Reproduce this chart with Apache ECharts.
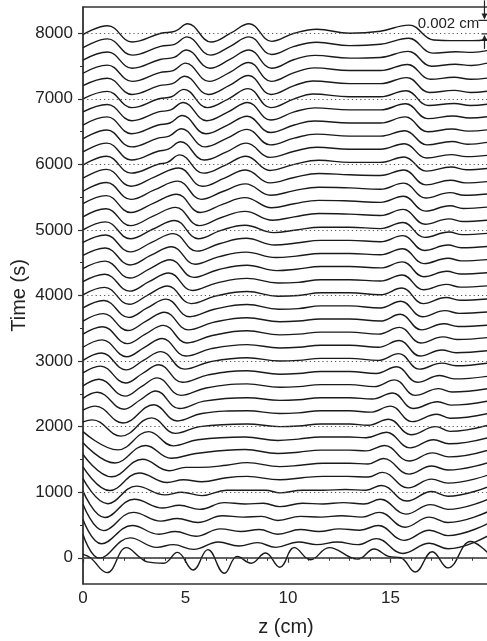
<!DOCTYPE html>
<html>
<head>
<meta charset="utf-8">
<script src="https://cdn.jsdelivr.net/npm/echarts@6/dist/echarts.min.js"></script>
<style>html,body{margin:0;padding:0;background:#fff;}#c{width:487px;height:641px;}</style>
</head>
<body>
<div id="c"></div>
<script>
// ---- data: surface profiles h(z); z in cm, displacement in 1e-4 cm (µm) ----
const K = 10.3;               // time-axis seconds per 1e-4 cm of displacement (0.002 cm bar)
const scaleBarCm = 0.002;
const h0 = [[0,5],[0.36,0],[1.17,-22],[2.12,15],[2.8,0],[3.13,-6],[3.94,-8],[4.6,8],[5.37,-18],[6.09,12],[6.9,-23],[7.52,2],[8.2,-8],[8.9,7],[9.6,-14],[10.3,15],[11.1,-3],[12.0,15],[13.4,-2],[14.2,13],[14.9,2],[15.5,0],[16.2,-21],[17.03,9],[17.8,-15],[18.9,24],[19.75,7]];
const h200 = [[0,15],[0.8,-20],[2.3,10],[3.6,-4],[4.4,0],[5.4,-7],[6.6,4],[7.6,-2],[8.5,3],[9.4,-4],[10.5,4],[11.4,0],[12.4,4],[13.4,0],[14.3,9],[15.6,-13],[16.9,2],[17.8,-6],[19.75,13]];
const h400 = [[0,18],[0.9,-18],[2.4,9],[3.7,-4],[4.5,0],[5.5,-7],[6.7,4],[7.7,0],[8.6,3],[9.5,-4],[10.6,3],[11.5,0],[12.5,4],[13.5,2],[14.4,9],[15.65,-13],[16.9,2],[17.8,-6],[19.75,12]];
const h600 = [[0,21],[1.0,-18],[2.45,9],[3.8,-4],[4.6,0],[5.6,-6],[6.8,4],[7.8,2],[8.7,3],[9.5,-3],[10.6,3],[11.6,2],[12.6,4],[13.6,2],[14.45,9],[15.7,-13],[16.9,2],[17.8,-6],[19.75,10]];
const h800 = [[0,21],[1.07,-18],[2.5,9],[3.9,-4],[4.7,0],[5.7,-6],[6.9,4],[7.9,2],[8.8,3],[9.6,-2],[10.7,3],[11.7,2],[12.7,4],[13.7,2],[14.5,9],[15.75,-13],[16.95,1],[17.8,-6],[19.75,9]];
const h1000 = [[0,20],[1.2,-17],[2.6,9],[4.0,-4],[4.8,0],[5.8,-5],[7.0,3],[8.0,3],[8.9,3],[9.6,-1],[10.7,3],[11.7,3],[12.8,4],[13.8,3],[14.55,10],[15.8,-13],[17.0,1],[17.8,-6],[19.75,8]];
const h1200 = [[0,18],[1.3,-17],[2.75,9],[4.1,-5],[4.9,-1],[5.8,-4],[7.0,2],[8.0,4],[9.6,-1],[10.7,2],[11.7,4],[12.9,4],[13.9,3],[14.6,10],[15.85,-13],[17.0,0],[17.8,-6],[19.75,6]];
const h1400 = [[0,17],[1.4,-16],[2.9,10],[4.2,-7],[5.0,-2],[5.7,-2],[7.0,1],[8.0,5],[9.6,-1],[10.6,1],[11.7,4],[13.0,4],[13.9,3],[14.65,11],[15.9,-12],[17.0,0],[17.8,-6],[19.75,5]];
const h1600 = [[0,15],[1.55,-15],[3.05,11],[4.3,-8],[5.5,-1],[7.9,5],[9.5,-1],[10.5,1],[11.6,4],[13.0,4],[13.8,3],[14.7,11],[15.9,-12],[17.05,0],[17.85,-6],[19.75,4]];
const h1800 = [[0,12],[1.7,-15],[3.2,12],[4.4,-9],[5.6,0],[7.9,4],[9.5,-1],[10.5,1],[11.6,4],[13.0,4],[13.8,3],[14.8,11],[15.95,-12],[17.1,0],[17.85,-6],[19.75,3]];
const h2000 = [[0,7],[0.45,10],[1.85,-14],[3.35,13],[4.5,-10],[5.7,0],[8.0,4],[9.6,0],[10.5,1],[11.6,4],[13.0,4],[13.9,2],[14.9,11],[16.0,-12],[17.2,0],[17.9,-7],[19.75,2]];
const h2200 = [[0,5],[0.6,11],[1.95,-14],[3.45,13],[4.6,-11],[5.8,0],[8.0,4],[9.6,0],[10.5,1],[11.6,4],[13.0,4],[14.0,2],[15.0,11],[16.05,-12],[17.25,-1],[17.9,-7],[19.75,0]];
const h2400 = [[0,3],[0.7,12],[2.0,-13],[2.8,1],[3.55,14],[4.7,-12],[5.9,-1],[8.0,4],[9.6,0],[10.5,1],[11.6,4],[13.0,4],[14.1,2],[15.1,11],[16.1,-12],[17.3,-2],[17.95,-7],[19.75,-1]];
const h2600 = [[0,2],[0.78,12],[2.05,-13],[2.85,1],[3.62,14],[4.77,-12],[6.0,-1],[8.0,5],[9.6,0],[10.5,1],[11.6,4],[13.0,4],[14.2,1],[15.2,11],[16.2,-12],[17.35,-2],[18.0,-7],[19.75,-2]];
const h2800 = [[0,2],[0.85,12],[2.08,-13],[2.9,1],[3.7,14],[4.85,-12],[6.1,-1],[8.0,5],[9.6,0],[10.5,1],[11.6,4],[13.0,4],[14.3,1],[15.3,11],[16.3,-12],[17.4,-2],[18.1,-7],[19.75,-3]];
const h3000 = [[0,1],[0.9,12],[2.1,-13],[2.95,1],[3.8,14],[4.95,-12],[6.2,-1],[8.0,5],[9.6,0],[10.5,1],[11.6,4],[13.0,4],[14.4,1],[15.4,11],[16.4,-12],[17.5,-3],[18.2,-7],[19.75,-3]];
const h3200 = [[0,1],[0.93,12],[2.13,-13],[3.0,1],[3.86,14],[5.01,-12],[6.25,-1],[8.0,5],[9.6,0],[10.5,1],[11.6,4],[13.0,4],[14.4,1],[15.42,11],[16.44,-12],[17.5,-3],[18.2,-7],[19.75,-4]];
const h3400 = [[0,1],[0.96,12],[2.16,-13],[3.04,1],[3.92,14],[5.07,-12],[6.3,-1],[8.0,6],[9.6,0],[10.5,1],[11.6,4],[13.0,4],[14.4,1],[15.44,11],[16.47,-12],[17.55,-3],[18.25,-7],[19.75,-4]];
const h3600 = [[0,1],[0.99,12],[2.19,-13],[3.08,1],[3.98,14],[5.13,-12],[6.35,-1],[8.0,6],[9.6,0],[10.5,1],[11.6,4],[13.0,4],[14.5,1],[15.47,11],[16.5,-12],[17.6,-3],[18.3,-7],[19.75,-5]];
const h3800 = [[0,1],[1.02,12],[2.22,-13],[3.13,1],[4.05,14],[5.2,-12],[6.4,-1],[8.0,6],[9.55,-1],[10.5,0],[11.6,4],[13.0,4],[14.5,1],[15.5,11],[16.55,-12],[17.65,-3],[18.35,-7],[19.75,-5]];
const h4000 = [[0,1],[1.05,12],[2.25,-13],[3.18,1],[4.12,14],[5.27,-12],[6.45,-1],[8.0,6],[9.5,-1],[10.5,0],[11.6,4],[13.0,4],[14.5,1],[15.55,11],[16.6,-12],[17.7,-3],[18.4,-7],[19.75,-5]];
const h4200 = [[0,1],[1.07,12],[2.27,-13],[3.22,1],[4.18,14],[5.33,-12],[6.5,-1],[8.0,6],[9.5,-1],[10.5,0],[11.6,4],[13.0,4],[14.5,2],[15.56,11],[16.61,-11],[17.72,-3],[18.4,-7],[19.75,-5]];
const h4400 = [[0,1],[1.08,12],[2.28,-13],[3.27,1],[4.25,14],[5.4,-12],[6.55,-1],[8.0,6],[9.45,-2],[10.4,0],[11.6,4],[13.0,4],[14.5,2],[15.57,11],[16.62,-11],[17.75,-3],[18.4,-7],[19.75,-5]];
const h4600 = [[0,1],[1.09,12],[2.29,-13],[3.3,1],[4.32,14],[5.47,-12],[6.6,-1],[7.95,6],[9.4,-2],[10.4,0],[11.6,4],[13.0,4],[14.5,2],[15.58,11],[16.63,-11],[17.8,-3],[18.45,-7],[19.75,-5]];
const h4800 = [[0,1],[1.1,12],[2.3,-13],[3.35,1],[4.4,14],[5.55,-12],[6.65,-1],[7.95,7],[9.35,-3],[10.4,0],[11.6,4],[13.0,4],[14.5,2],[15.59,11],[16.65,-11],[17.8,-3],[18.45,-7],[19.75,-5]];
const h5000 = [[0,0],[1.1,12],[2.3,-13],[3.4,1],[4.47,14],[5.62,-13],[6.7,-1],[7.9,7],[9.3,-4],[10.4,0],[11.6,4],[13.0,4],[14.5,2],[15.6,11],[16.66,-11],[17.85,-3],[18.5,-7],[19.75,-5]];
const h5200 = [[0,0],[1.12,12],[2.31,-13],[3.42,1],[4.52,14],[5.67,-13],[6.75,-1],[7.9,8],[9.25,-5],[10.3,0],[11.5,5],[13.0,4],[14.5,2],[15.61,11],[16.68,-11],[17.85,-3],[18.5,-7],[19.75,-5]];
const h5400 = [[0,0],[1.13,12],[2.32,-13],[3.45,1],[4.57,14],[5.72,-13],[6.8,-1],[7.9,9],[9.2,-6],[10.3,0],[11.5,5],[13.0,4],[14.5,2],[15.62,11],[16.7,-11],[17.9,-3],[18.55,-7],[19.75,-5]];
const h5600 = [[0,-1],[1.14,12],[2.33,-13],[3.48,1],[4.62,14],[5.77,-13],[6.85,-1],[7.92,10],[9.15,-7],[10.3,0],[11.5,5],[13.0,4],[14.5,2],[15.63,11],[16.72,-11],[17.9,-3],[18.6,-7],[19.75,-5]];
const h5800 = [[0,-1],[1.15,12],[2.34,-13],[3.5,1],[4.67,14],[5.82,-13],[6.9,-1],[7.93,11],[9.13,-8],[10.3,0],[11.5,6],[13.0,4],[14.5,3],[15.64,11],[16.73,-11],[17.93,-4],[18.65,-8],[19.75,-6]];
const h6000 = [[0,-1],[1.15,12],[2.35,-13],[3.65,0],[4.12,3],[4.72,14],[5.87,-13],[6.95,-1],[7.95,12],[9.12,-9],[10.3,0],[11.5,6],[13.0,3],[14.5,3],[15.65,11],[16.75,-10],[17.95,-4],[18.7,-8],[19.75,-6]];
const h6200 = [[0,-1],[1.16,12],[2.36,-13],[3.66,0],[4.16,3],[4.76,14],[5.91,-13],[7.0,-1],[7.97,12],[9.12,-9],[10.3,0],[11.4,6],[13.0,3],[14.5,3],[15.67,11],[16.76,-10],[17.95,-5],[18.7,-8],[19.75,-6]];
const h6400 = [[0,-1],[1.16,12],[2.36,-13],[3.66,0],[4.2,3],[4.8,14],[5.95,-13],[7.03,0],[8.0,13],[9.13,-10],[10.3,0],[11.4,6],[13.0,3],[14.5,3],[15.69,11],[16.78,-10],[18.0,-5],[18.75,-9],[19.75,-6]];
const h6600 = [[0,0],[1.17,12],[2.37,-13],[3.67,0],[4.24,3],[4.84,14],[5.99,-13],[7.05,0],[8.01,13],[9.14,-11],[10.3,0],[11.3,6],[13.0,3],[14.5,3],[15.71,12],[16.8,-10],[18.0,-6],[18.8,-9],[19.75,-7]];
const h6800 = [[0,0],[1.18,11],[2.38,-13],[3.68,0],[4.28,3],[4.88,14],[6.03,-13],[7.08,0],[8.03,14],[9.15,-12],[10.3,0],[11.3,6],[13.0,3],[14.5,3],[15.73,12],[16.82,-10],[18.05,-6],[18.85,-9],[19.75,-7]];
const h7000 = [[0,0],[1.18,11],[2.38,-13],[3.7,0],[4.32,3],[4.92,14],[6.07,-13],[7.1,0],[8.05,15],[9.15,-13],[10.3,0],[11.2,7],[13.0,3],[14.5,3],[15.75,12],[16.85,-10],[18.1,-7],[18.9,-10],[19.75,-8]];
const h7200 = [[0,0],[1.19,11],[2.39,-13],[3.72,0],[4.36,3],[4.96,14],[6.11,-13],[7.12,0],[8.07,15],[9.17,-13],[10.3,0],[11.2,7],[13.0,3],[14.5,3],[15.78,12],[16.9,-10],[18.1,-7],[18.9,-10],[19.75,-8]];
const h7400 = [[0,-1],[1.19,11],[2.39,-13],[3.74,0],[4.4,3],[5.0,14],[6.15,-13],[7.14,0],[8.08,15],[9.18,-13],[10.3,0],[11.3,7],[13.0,3],[14.5,3],[15.82,12],[16.95,-10],[18.1,-7],[18.9,-10],[19.75,-8]];
const h7600 = [[0,-1],[1.2,11],[2.4,-13],[3.76,0],[4.44,3],[5.04,14],[6.19,-13],[7.16,0],[8.09,14],[9.2,-13],[10.3,0],[11.3,6],[13.0,2],[14.5,3],[15.85,12],[17.0,-10],[18.15,-7],[18.95,-9],[19.75,-5]];
const h7800 = [[0,-2],[1.2,11],[2.4,-13],[3.78,0],[4.47,3],[5.07,14],[6.22,-13],[7.18,0],[8.1,14],[9.2,-12],[10.3,0],[11.4,6],[13.0,1],[14.5,3],[15.88,12],[17.05,-10],[18.2,-8],[19.0,-9],[19.75,-6]];
const h8000 = [[0,-2],[1.2,11],[2.4,-13],[3.8,0],[4.5,3],[5.1,14],[6.25,-13],[7.2,0],[8.1,14],[9.2,-12],[10.3,0],[11.4,6],[13.0,0],[14.5,3],[15.9,12],[17.1,-10],[18.2,-11],[19.0,-11],[19.75,-9]];

const times = [0,200,400,600,800,1000,1200,1400,1600,1800,2000,2200,2400,2600,2800,3000,3200,3400,3600,3800,4000,4200,4400,4600,4800,5000,5200,5400,5600,5800,6000,6200,6400,6600,6800,7000,7200,7400,7600,7800,8000];
const profiles = [h0,h200,h400,h600,h800,h1000,h1200,h1400,h1600,h1800,h2000,h2200,h2400,h2600,h2800,h3000,h3200,h3400,h3600,h3800,h4000,h4200,h4400,h4600,h4800,h5000,h5200,h5400,h5600,h5800,h6000,h6200,h6400,h6600,h6800,h7000,h7200,h7400,h7600,h7800,h8000];
const yMajor = [0,1000,2000,3000,4000,5000,6000,7000,8000];
const yMinor = [500,1500,2500,3500,4500,5500,6500,7500];
const xMajor = [0,5,10,15];
const xMinor = [1,2,3,4,6,7,8,9,11,12,13,14,16,17,18,19];

// ---- chart ----
const FONT = 'Liberation Sans, Arial, Helvetica, sans-serif';
const chart = echarts.init(document.getElementById('c'), null, {renderer:'canvas'});
const series = profiles.map((p, i) => ({
  type: 'line',
  data: p.map(([z, d]) => [z, times[i] + d * K]),
  showSymbol: false,
  smooth: 0.42,
  silent: true,
  z: 3,
  lineStyle: {color: '#1a1a1a', width: 1.4}
}));
series.push({
  type: 'line', data: [], silent: true, z: 1,
  markLine: {
    silent: true, symbol: ['none','none'], animation: false,
    label: {show: false},
    lineStyle: {type: [1.2, 3], color: '#555', width: 1},
    data: yMajor.map(v => ({yAxis: v}))
  }
});
const axisCol = '#333';
const plain = v => String(v);
chart.setOption({
  animation: false,
  backgroundColor: '#fff',
  grid: {left: 83, top: 7, width: 406, height: 577, show: true, borderColor: axisCol, borderWidth: 1.3,
         backgroundColor: 'transparent', containLabel: false, outerBoundsMode: 'none'},
  xAxis: [
    {type:'value', min:0, max:19.8, position:'bottom',
     axisLine:{show:true, lineStyle:{color:axisCol, width:1.5}},
     axisTick:{show:true, customValues:xMajor, length:5, lineStyle:{color:axisCol, width:1.2}},
     axisLabel:{customValues:xMajor, formatter:plain, fontSize:17, color:'#222', margin:6, fontFamily:FONT},
     splitLine:{show:false},
     name:'z (cm)', nameLocation:'middle', nameGap:33, nameMoveOverlap:false,
     nameTextStyle:{fontSize:20, color:'#222', fontFamily:FONT}},
    {type:'value', min:0, max:19.8, position:'bottom',
     axisLine:{show:false},
     axisTick:{show:true, customValues:xMinor, length:3, lineStyle:{color:axisCol, width:1}},
     axisLabel:{show:false, customValues:xMinor}, splitLine:{show:false}}
  ],
  yAxis: [
    {type:'value', min:-400, max:8400, position:'left',
     axisLine:{show:true, lineStyle:{color:axisCol, width:1.5}},
     axisTick:{show:true, customValues:yMajor, length:5, lineStyle:{color:axisCol, width:1.2}},
     axisLabel:{customValues:yMajor, formatter:plain, fontSize:17, color:'#222', margin:10, fontFamily:FONT},
     splitLine:{show:false},
     name:'Time (s)', nameLocation:'middle', nameGap:54, nameMoveOverlap:false,
     nameTextStyle:{fontSize:20, color:'#222', fontFamily:FONT}},
    {type:'value', min:-400, max:8400, position:'left',
     axisLine:{show:false},
     axisTick:{show:true, customValues:yMinor, length:3, lineStyle:{color:axisCol, width:1}},
     axisLabel:{show:false, customValues:yMinor}, splitLine:{show:false}}
  ],
  series: series
});

// ---- 0.002 cm scale bar, placed through the axes ----
const barZ = 19.58, barBottom = 7990, barTop = barBottom + scaleBarCm * 1e4 * K;
const pT = chart.convertToPixel({xAxisIndex:0, yAxisIndex:0}, [barZ, barTop]);
const pB = chart.convertToPixel({xAxisIndex:0, yAxisIndex:0}, [barZ, barBottom]);
const pL = chart.convertToPixel({xAxisIndex:0, yAxisIndex:0}, [19.28, barTop]);
const st = {stroke:'#222', lineWidth:1.2};
const el = [
  {type:'line', shape:{x1:pT[0], y1:pT[1]-20, x2:pT[0], y2:pT[1]-2}, style:st},
  {type:'polygon', shape:{points:[[pT[0]-3,pT[1]-7],[pT[0]+3,pT[1]-7],[pT[0],pT[1]-1]]}, style:{fill:'#222'}},
  {type:'line', shape:{x1:pL[0], y1:pT[1], x2:pT[0]+4, y2:pT[1]}, style:st},
  {type:'line', shape:{x1:pB[0], y1:pB[1]+2, x2:pB[0], y2:pB[1]+15}, style:st},
  {type:'polygon', shape:{points:[[pB[0]-3,pB[1]+7],[pB[0]+3,pB[1]+7],[pB[0],pB[1]+1]]}, style:{fill:'#222'}},
  {type:'line', shape:{x1:pB[0]-3, y1:pB[1], x2:pB[0]+4, y2:pB[1]}, style:st},
  {type:'text', x:pL[0]+1, y:(pT[1]+pB[1])/2 - 3,
   style:{text:'0.002 cm', fill:'#222', font:'15px ' + FONT, align:'right', verticalAlign:'middle'}}
];
chart.setOption({graphic:{elements: el}});
</script>
</body>
</html>
